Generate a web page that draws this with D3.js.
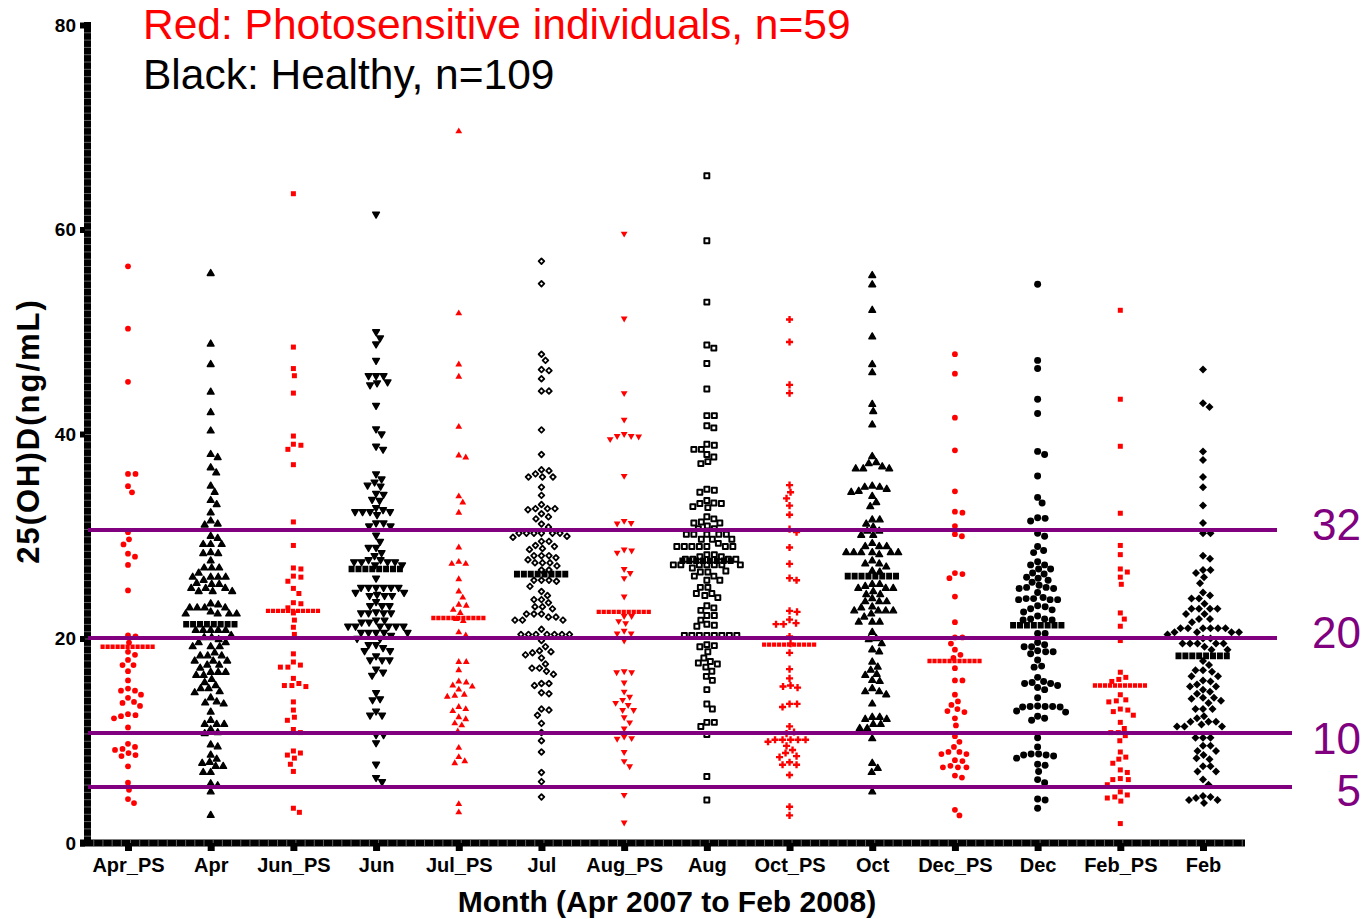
<!DOCTYPE html>
<html>
<head>
<meta charset="utf-8">
<script src="https://cdn.jsdelivr.net/npm/d3@7"></script>
<style>
  html, body { margin: 0; padding: 0; background: #fff; }
  svg { display: block; }
</style>
</head>
<body>
<script>
// ---------------- DATA ----------------
const categories = ["Apr_PS","Apr","Jun_PS","Jun","Jul_PS","Jul","Aug_PS","Aug","Oct_PS","Oct","Dec_PS","Dec","Feb_PS","Feb"];
const yTicks = [0, 20, 40, 60, 80];
const medians = [19.2, 21.4, 22.7, 26.8, 22.0, 26.3, 22.6, 27.6, 19.4, 26.1, 17.8, 21.3, 15.4, 18.3];
const refLineValues = [30.6, 20.05, 10.75, 5.47];
const refLineLabels = ["32", "20", "10", "5"];
const titleRed = "Red: Photosensitive individuals, n=59";
const titleBlack = "Black: Healthy, n=109";
const yTitle = "25(OH)D(ng/mL)";
const xTitle = "Month (Apr 2007 to Feb 2008)";

const aprPS = [56.4,50.3,45.1,36.1,36.1,34.9,34.3,30.4,29.7,29.2,28.3,28.0,27.2,24.7,20.3,20.2,19.6,18.7,18.4,17.9,17.4,17.4,16.8,15.9,15.1,14.9,14.9,14.5,14.2,13.8,13.7,13.4,12.6,12.5,12.4,12.2,11.3,9.7,9.4,9.2,9.1,8.8,8.6,8.5,7.5,5.9,5.2,4.3,3.9];
const apr = [55.7,48.8,46.8,44.1,42.1,40.3,38.0,37.7,36.7,36.2,34.9,34.3,33.5,33.1,32.3,31.5,31.1,31.2,30.0,29.8,29.2,29.2,29.2,28.4,28.3,28.3,27.6,26.9,26.9,26.9,26.4,26.0,26.0,26.0,26.0,25.7,25.4,25.3,25.3,24.9,24.9,24.9,24.6,24.6,24.6,23.4,23.3,23.0,23.0,23.0,23.0,22.6,22.4,22.4,22.4,22.4,20.8,20.8,20.8,20.8,20.8,20.3,20.1,20.1,19.9,19.6,19.6,19.2,19.2,19.2,18.6,18.3,18.3,18.3,17.8,17.8,17.8,17.4,17.4,17.1,16.7,16.7,16.7,16.4,16.4,16.0,15.7,15.4,15.1,15.1,14.8,14.7,14.2,13.8,13.7,13.6,12.8,12.0,11.6,11.6,11.6,11.1,10.8,10.7,9.6,9.4,8.6,8.2,7.9,7.8,7.5,7.5,6.9,6.9,5.8,5.6,5.0,2.7];
const junPS = [63.5,48.5,46.4,45.7,44.0,39.8,38.9,39.0,38.5,37.0,31.4,29.1,26.9,26.8,26.1,26.0,25.6,24.9,24.4,23.5,23.4,23.0,22.5,21.8,21.1,20.4,18.5,17.7,17.4,17.2,17.2,16.1,15.6,15.4,15.3,15.4,13.8,13.0,12.3,12.0,11.1,10.8,9.0,8.8,8.6,8.3,7.7,7.0,3.4,3.0];
const jun = [61.5,50.0,49.4,48.8,47.2,45.7,45.7,45.7,45.0,44.8,45.1,42.8,40.5,40.0,38.8,38.5,36.1,35.6,35.3,35.0,34.9,34.1,34.2,33.5,33.6,32.8,32.6,32.4,32.4,32.4,32.4,32.1,31.3,31.3,31.0,31.0,30.1,29.5,28.9,28.9,28.4,28.1,27.7,27.7,27.5,27.5,27.5,27.5,27.2,27.2,25.9,25.0,25.0,25.0,25.0,25.0,25.0,24.5,24.2,24.2,24.2,24.3,24.5,23.6,23.2,23.2,23.2,22.6,22.5,22.5,22.5,22.5,21.8,21.8,21.6,21.6,21.2,21.2,21.2,21.2,21.2,21.2,20.6,20.6,20.6,20.6,20.6,20.3,20.0,20.0,19.4,19.4,19.1,18.8,18.8,18.3,17.9,17.9,17.9,17.0,16.4,16.7,14.7,14.1,14.0,12.9,12.5,12.5,10.6,10.6,9.8,7.7,6.4,6.0];
const julPS = [69.6,51.8,46.8,45.6,40.7,37.9,37.7,33.9,33.3,32.3,28.9,27.3,27.3,27.5,25.8,24.6,24.0,23.3,23.2,22.8,22.5,21.7,21.9,20.6,20.3,17.7,17.7,16.9,15.8,15.7,15.3,15.4,15.0,14.4,14.3,14.5,13.3,13.1,12.9,12.3,12.1,11.7,11.5,10.9,9.3,8.4,7.8,8.0,3.8,3.0];
const jul = [56.9,54.7,47.8,47.2,46.3,46.2,45.4,44.2,44.2,40.4,38.0,36.4,36.5,35.8,35.8,35.8,36.1,34.8,34.0,33.1,32.7,32.7,32.7,32.6,32.2,31.7,31.9,31.2,30.9,30.3,30.3,30.3,30.3,30.3,30.3,30.0,29.9,29.5,29.5,29.1,29.0,28.8,28.7,28.1,28.1,28.1,27.9,27.7,27.4,27.4,27.4,27.1,26.7,26.7,25.7,25.7,25.7,25.6,25.1,24.6,24.2,23.8,23.8,23.5,23.1,23.1,22.9,22.4,22.4,22.4,22.1,22.1,21.8,21.8,21.8,20.9,20.4,20.4,20.4,20.4,20.4,20.4,20.4,19.8,19.2,18.8,18.7,18.6,18.4,18.1,17.5,17.1,17.1,16.8,16.5,15.6,15.6,15.4,14.7,14.6,13.1,13.0,12.5,11.7,10.8,10.0,8.9,6.9,6.0,4.5];
const augPS = [59.6,51.3,44.0,41.4,40.0,39.8,39.5,39.75,39.8,35.9,31.5,31.25,31.3,28.6,28.4,28.7,26.8,26.4,25.9,24.1,22.2,22.2,21.7,21.5,20.75,20.5,20.5,19.8,16.8,16.7,16.7,15.7,14.8,14.3,13.7,14.0,13.5,13.0,13.0,12.3,11.8,11.2,10.4,10.2,10.25,8.9,8.0,7.5,4.7,2.0];
const aug = [65.25,58.9,52.9,48.7,48.4,46.9,44.4,41.8,41.8,40.6,40.8,39.0,38.9,38.5,38.5,38.0,37.75,37.3,37.1,34.6,34.3,34.5,33.25,33.2,33.5,32.8,32.9,33.2,31.9,31.7,31.3,31.4,31.3,31.0,30.75,30.75,30.2,30.2,30.2,30.2,30.2,29.7,29.7,29.7,29.3,29.0,29.0,29.0,29.0,29.0,29.0,29.0,28.2,28.2,28.0,28.0,27.75,27.75,27.75,27.75,27.2,27.2,27.2,27.2,27.2,27.2,27.2,26.9,26.5,26.5,26.6,26.1,26.1,25.7,25.7,25.0,25.0,24.4,24.4,24.0,24.2,23.0,23.2,22.75,22.25,22.25,21.8,21.3,21.2,21.4,20.3,20.3,20.3,20.3,20.3,20.3,20.3,20.3,19.4,19.2,19.3,18.7,18.1,17.75,17.5,17.6,17.2,16.8,16.3,15.9,15.0,13.6,13.1,11.8,11.8,11.4,10.6,6.5,4.2];
const octPS = [51.2,49.0,44.8,44.0,35.0,34.3,33.7,33.0,32.1,30.7,30.4,28.9,27.3,25.9,25.7,22.7,22.6,21.85,21.5,21.4,21.4,20.2,19.5,18.6,17.0,16.1,15.3,15.2,15.4,13.6,13.3,13.6,11.4,10.85,10.7,10.1,10.1,10.1,10.1,10.1,9.9,9.5,9.1,8.8,8.4,8.5,7.9,7.65,7.65,6.65,3.55,2.7];
const oct = [55.5,54.6,52.1,49.5,46.8,46.0,42.9,42.2,40.9,37.8,37.1,36.6,36.6,36.6,36.8,37.2,34.8,34.8,34.9,34.6,34.4,34.3,33.9,33.3,32.9,31.6,31.6,31.2,30.9,30.5,30.5,30.1,30.1,29.3,29.0,29.0,29.0,28.4,28.4,28.4,28.4,28.4,28.4,28.2,27.6,27.3,27.3,27.0,26.5,26.6,25.3,25.3,25.1,24.9,24.9,24.9,24.6,24.3,24.3,23.9,23.6,23.6,23.6,23.0,23.1,22.7,22.7,22.7,22.7,22.4,22.1,21.6,21.6,21.6,20.6,20.0,19.9,19.5,18.9,18.7,17.7,17.2,16.9,16.5,16.4,15.9,15.8,15.1,14.8,14.5,14.8,13.6,12.3,12.3,12.1,12.1,11.6,11.6,11.2,11.2,10.2,7.8,7.3,6.9,5.0];
const decPS = [47.8,45.9,41.6,38.4,34.4,32.3,32.4,31.0,30.0,30.2,26.3,26.4,25.9,24.1,21.6,20.1,20.1,19.5,18.9,18.4,18.1,17.1,15.9,15.9,14.5,13.85,13.5,13.1,12.8,12.9,12.2,11.5,10.45,9.9,9.4,8.9,8.7,8.9,8.7,8.1,8.0,7.4,7.4,7.4,7.55,6.6,6.4,3.25,2.7];
const dec = [54.65,47.2,46.4,43.4,42.0,38.3,38.0,35.9,33.8,33.25,31.8,31.75,31.5,30.3,30.0,29.0,28.6,28.4,27.5,27.2,27.2,26.8,26.8,26.3,26.4,26.0,25.9,25.7,25.5,25.2,25.0,24.9,24.9,25.0,24.5,24.0,23.9,23.9,23.8,23.8,23.8,23.2,23.1,22.9,22.8,22.6,22.2,21.9,21.8,21.8,21.9,20.5,20.5,19.6,19.4,19.2,19.2,18.8,18.7,18.7,18.5,17.9,17.3,17.2,16.2,15.6,15.4,15.8,15.2,15.6,15.7,15.0,14.2,13.4,13.3,13.3,13.35,13.35,13.35,12.8,12.9,12.2,12.0,12.4,10.3,9.4,8.7,8.6,8.3,8.5,8.6,8.7,7.6,7.7,7.0,6.2,5.9,4.3,4.2,3.4];
const febPS = [52.1,43.4,38.8,32.25,29.1,28.2,26.8,26.5,26.0,25.3,22.5,21.9,21.2,19.8,16.7,16.2,16.0,15.8,14.5,14.0,13.8,13.9,13.1,13.0,12.85,12.5,11.8,11.2,10.8,10.8,10.5,10.0,8.9,8.4,8.2,7.8,6.9,7.15,6.3,6.2,6.2,5.7,5.0,4.7,4.4,4.5,4.1,1.9];
const feb = [46.3,43.0,42.65,38.3,37.45,35.8,34.8,33.0,31.3,30.3,30.3,28.1,27.8,26.7,26.7,26.4,26.0,25.4,24.5,24.2,23.9,23.9,23.4,22.9,22.9,22.9,22.9,22.4,22.4,21.9,21.9,21.6,21.0,21.0,21.0,21.0,21.0,21.0,20.6,20.6,20.6,20.6,20.4,20.0,20.0,19.5,19.5,19.5,19.5,19.5,19.2,18.9,18.9,17.8,17.4,16.9,16.9,16.75,16.3,16.3,15.9,15.8,15.5,15.3,15.3,15.0,14.8,14.6,14.1,13.9,14.2,14.2,13.7,13.1,13.1,13.1,12.4,12.2,11.85,11.85,11.85,11.6,11.4,11.4,11.4,10.3,10.3,10.3,9.5,9.5,9.0,9.0,8.3,8.2,8.6,7.5,7.5,7.0,7.0,6.2,5.7,4.5,4.2,4.4,4.6,3.9,4.2];

const series = [aprPS, apr, junPS, jun, julPS, jul, augPS, aug, octPS, oct, decPS, dec, febPS, feb];

// ---------------- LAYOUT / STYLE ----------------
const W = 1364, H = 919;
const FONT = "'Liberation Sans', Arial, Helvetica, sans-serif";
const RED = "#ff0000", PURPLE = "#800080";

const svg = d3.select("body").append("svg").attr("width", W).attr("height", H);

const y = d3.scaleLinear().domain([0, 80]).range([843, 25]);
const x = d3.scalePoint().domain(categories).range([128, 1203]);

const markerStyles = [
  { type: d3.symbolCircle,   size: 26, fill: RED },
  { type: d3.symbolTriangle, size: 20, fill: "#000", stroke: "#000", sw: 1.4 },
  { type: d3.symbolSquare,   size: 25, fill: RED },
  { type: d3.symbolTriangle, size: 20, fill: "#000", stroke: "#000", sw: 1.4, rot: 180 },
  { type: d3.symbolTriangle, size: 20, fill: RED },
  { type: d3.symbolSquare,   size: 16, fill: "#fff", stroke: "#000", sw: 1.8, rot: 45 },
  { type: d3.symbolTriangle, size: 20, fill: RED, rot: 180 },
  { type: d3.symbolSquare,   size: 24, fill: "#fff", stroke: "#000", sw: 2.0 },
  { type: d3.symbolCross,    size: 28, fill: RED },
  { type: d3.symbolTriangle, size: 20, fill: "#000", stroke: "#000", sw: 1.4 },
  { type: d3.symbolCircle,   size: 26, fill: RED },
  { type: d3.symbolCircle,   size: 38, fill: "#000" },
  { type: d3.symbolSquare,   size: 25, fill: RED },
  { type: d3.symbolSquare,   size: 32, fill: "#000", rot: 45 }
];

// Beeswarm: greedy placement nearest to the column centre without overlap
function swarm(values, D) {
  const pts = values.map(v => ({ v, py: y(v) })).sort((a, b) => a.py - b.py);
  const placed = [];
  pts.forEach(p => {
    let off = 0;
    for (let k = 0; k < 400; k++) {
      const o = (k % 2 === 1 ? 1 : -1) * Math.ceil(k / 2) * 0.5;
      if (placed.every(q => (q.dx - o) ** 2 + (q.py - p.py) ** 2 >= D * D)) { off = o; break; }
    }
    p.dx = off;
    placed.push(p);
  });
  return pts;
}

// ---------------- AXES ----------------
svg.append("rect").attr("x", 84).attr("y", y(80) - 3)
  .attr("width", 7).attr("height", y(0) - y(80) + 6).attr("fill", "#000");
const yMinor = d3.range(0, 80, 80 / 112);
svg.append("g").selectAll("line").data(yMinor).join("line")
  .attr("x1", 84).attr("x2", 91).attr("y1", d => y(d) + 0.5).attr("y2", d => y(d) + 0.5)
  .attr("stroke", "#7a7a7a").attr("stroke-width", 0.8);

svg.append("rect").attr("x", 80).attr("y", y(0) - 3.5)
  .attr("width", 1245 - 80).attr("height", 7).attr("fill", "#000");
const xStepMinor = x.step() / 9;
const xMinor = d3.range(91 + xStepMinor * 0.3, 1245, xStepMinor);
svg.append("g").selectAll("line").data(xMinor).join("line")
  .attr("x1", d => d).attr("x2", d => d).attr("y1", y(0) - 3.5).attr("y2", y(0) + 3.5)
  .attr("stroke", "#7a7a7a").attr("stroke-width", 0.8);

const yAxis = d3.axisLeft(y).tickValues(yTicks).tickSize(5).tickPadding(4);
const gy = svg.append("g").attr("transform", "translate(85,0)").call(yAxis);
gy.select(".domain").remove();
gy.selectAll(".tick line").attr("stroke", "#000").attr("stroke-width", 6);
gy.selectAll(".tick text").attr("fill", "#000").attr("font-family", FONT)
  .attr("font-weight", "bold").attr("font-size", 19);

const xAxis = d3.axisBottom(x).tickSize(8).tickPadding(7);
const gx = svg.append("g").attr("transform", `translate(0,${y(0)})`).call(xAxis);
gx.select(".domain").remove();
gx.selectAll(".tick line").attr("stroke", "#000").attr("stroke-width", 7);
gx.selectAll(".tick text").attr("fill", "#000").attr("font-family", FONT)
  .attr("font-weight", "bold").attr("font-size", 20);

// ---------------- POINTS ----------------
const gPts = svg.append("g");
series.forEach((vals, i) => {
  const st = markerStyles[i];
  const cx = x(categories[i]);
  const pts = swarm(vals, 7.2);
  const sym = d3.symbol().type(st.type).size(st.size)();
  gPts.append("g").selectAll("path").data(pts).join("path")
    .attr("d", sym)
    .attr("transform", d => `translate(${cx + d.dx},${d.py}) rotate(${st.rot || 0})`)
    .attr("fill", st.fill)
    .attr("stroke", st.stroke || "none")
    .attr("stroke-width", st.sw || 0)
    .attr("stroke-linejoin", "round");
});

// ---------------- MEDIANS ----------------
svg.append("g").selectAll("line").data(medians).join("line")
  .attr("x1", (d, i) => x(categories[i]) - 27.5)
  .attr("x2", (d, i) => x(categories[i]) + 27.5)
  .attr("y1", d => y(d)).attr("y2", d => y(d))
  .attr("stroke", (d, i) => i % 2 === 0 ? RED : "#000")
  .attr("stroke-width", (d, i) => i % 2 === 0 ? 4.4 : 6.6)
  .attr("stroke-dasharray", (d, i) => i % 2 === 0 ? "4.2,0.8" : "6,0.9");

// ---------------- REFERENCE LINES ----------------
const lineEnds = [1277, 1277, 1292, 1292];
const labelBaselineOffsets = [10, 10, 21, 19];
const gRef = svg.append("g");
refLineValues.forEach((v, i) => {
  gRef.append("line").attr("x1", 88).attr("x2", lineEnds[i])
    .attr("y1", y(v)).attr("y2", y(v))
    .attr("stroke", PURPLE).attr("stroke-width", 4);
  gRef.append("text").attr("x", 1361).attr("y", y(v) + labelBaselineOffsets[i])
    .attr("text-anchor", "end").attr("font-family", FONT).attr("font-size", 44)
    .attr("fill", PURPLE).text(refLineLabels[i]);
});

// ---------------- TITLES ----------------
svg.append("text").attr("x", 143).attr("y", 39).attr("font-family", FONT)
  .attr("font-size", 42.5).attr("fill", RED).text(titleRed);
svg.append("text").attr("x", 143).attr("y", 89).attr("font-family", FONT)
  .attr("font-size", 42.5).attr("fill", "#000").text(titleBlack);

svg.append("text").attr("transform", "translate(39,431) rotate(-90)")
  .attr("text-anchor", "middle").attr("font-family", FONT).attr("font-weight", "bold")
  .attr("font-size", 31).attr("letter-spacing", 2).attr("fill", "#000").text(yTitle);

svg.append("text").attr("x", 667).attr("y", 912).attr("text-anchor", "middle")
  .attr("font-family", FONT).attr("font-weight", "bold").attr("font-size", 30)
  .attr("fill", "#000").text(xTitle);
</script>
</body>
</html>
